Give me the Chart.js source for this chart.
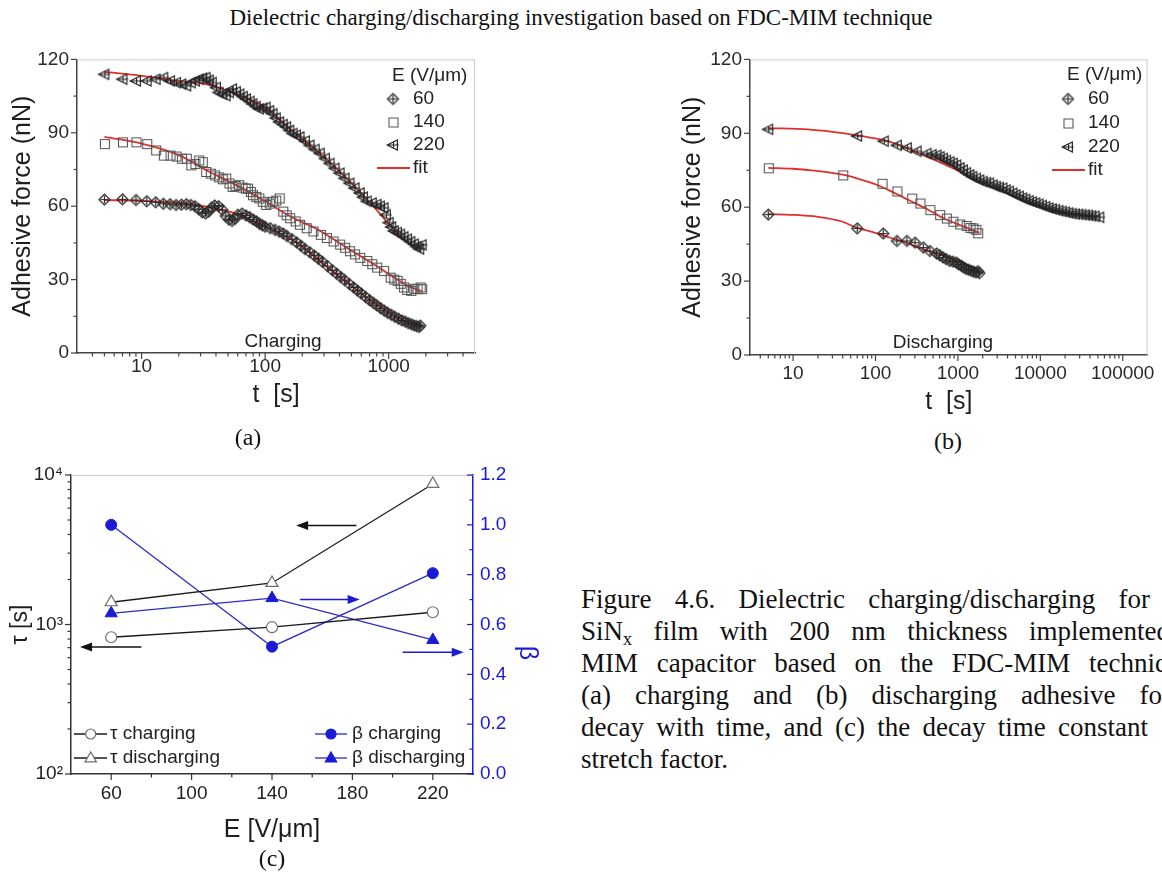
<!DOCTYPE html>
<html><head><meta charset="utf-8">
<script src="https://cdn.jsdelivr.net/npm/chart.js@4.4.1/dist/chart.umd.min.js"></script>
<style>
html,body{margin:0;padding:0;background:#fff;overflow:hidden;width:1162px;height:878px;}
body{position:relative;}
canvas{position:absolute;}
.serif{font-family:"Liberation Serif","Times New Roman",serif;color:#111;position:absolute;white-space:nowrap;}
#title{left:0;width:1162px;top:4px;text-align:center;font-size:23px;line-height:28px;}
.lab{font-size:24px;line-height:28px;width:60px;text-align:center;}
#cap{left:581px;top:583px;font-size:27px;line-height:32px;white-space:normal;}
#cap div{height:32px;text-align:justify;text-align-last:justify;}
#cap div.last{text-align:left;text-align-last:left;}
#cap sub{font-size:18px;vertical-align:-5px;line-height:0;}
</style></head><body>
<div id="title" class="serif">Dielectric charging/discharging investigation based on FDC-MIM technique</div>
<canvas id="ca" width="490" height="375" style="left:0px;top:40px"></canvas>
<canvas id="cb" width="502" height="380" style="left:660px;top:40px"></canvas>
<canvas id="cc" width="560" height="420" style="left:0px;top:440px"></canvas>
<div class="serif lab" style="left:218px;top:423px">(a)</div>
<div class="serif lab" style="left:918px;top:427px">(b)</div>
<div class="serif lab" style="left:242px;top:844px">(c)</div>
<div id="cap" class="serif">
<div style="width:569px">Figure 4.6. Dielectric charging/discharging for</div>
<div style="width:589px">SiN<sub>x</sub> film with 200 nm thickness implemented</div>
<div style="width:613px">MIM capacitor based on the FDC-MIM technique</div>
<div style="width:614px">(a) charging and (b) discharging adhesive force</div>
<div style="width:567px">decay with time, and (c) the decay time constant</div>
<div class="last">stretch factor.</div>
</div>
<script>
// ---------- (a) charging: time [s] and adhesive force [nN] ----------
const tA60 = [5,7,9,11,13,15,17,19,21,23,25,27,29,31,33,35,37,39,42,45,48,51,54,57,60,65,70,75,80,85,90,95,100,110,120,130,140,150,165,180,195,210,230,250,270,290,320,350,380,410,440,480,520,560,600,650,700,750,800,860,920,980,1050,1120,1200,1280,1360,1440,1520,1600,1680,1760,1800];
const fA60 = [62.7,62.8,62.5,62.0,61.6,61.0,60.8,60.5,60.6,60.8,60.5,60.0,58.8,57.5,57.0,57.8,59.5,60.3,60.0,58.5,56.0,54.5,54.0,54.8,56.5,57.0,56.2,55.5,54.5,53.8,52.8,52.2,51.6,51.0,50.3,49.6,48.8,47.8,46.5,45.2,43.8,42.5,41.2,39.8,38.5,37.3,35.5,33.8,32.4,31.0,29.8,28.2,26.8,25.5,24.3,22.9,21.6,20.5,19.5,18.3,17.3,16.4,15.6,14.8,14.0,13.3,12.8,12.2,11.8,11.3,11.0,10.6,11.2];
const tA140 = [5,7,9,11,13,15,17,19,21,23,25,27,29,31,33,36,39,42,45,48,51,54,57,61,65,69,72,76,79,84,89,95,101,108,115,122,130,139,148,158,175,190,215,244,280,313,355,401,440,482,530,584,665,730,800,910,1030,1100,1170,1240,1320,1400,1510,1600,1700,1800,1850];
const fA140 = [85.6,86.3,86.3,85.6,83.0,80.9,80.9,80.5,79.6,79.6,76.9,77.5,78.9,78.2,74.2,73.5,72.8,72.0,71.2,71.5,69.5,68.1,68.5,68.8,67.8,67.4,67.4,66.0,64.7,64.0,63.4,62.0,60.7,61.3,62.0,62.5,63.4,58.0,56.5,55.3,54.0,52.6,51.2,49.9,48.5,47.2,45.8,44.5,43.2,41.8,40.5,39.1,37.8,36.5,35.1,33.7,31.0,30.2,29.7,28.5,27.0,26.0,25.6,26.5,26.3,27.0,26.3];
const tA220 = [5,7,9,11,13,15,17,19,21,23,25,27,29,31,33,35,37,40,42,45,48,51,54,58,62,66,70,75,79,84,89,95,101,108,115,122,130,139,148,157,167,178,190,210,229,252,277,305,333,365,401,440,482,530,584,620,665,730,800,850,910,950,1000,1050,1100,1170,1240,1320,1410,1500,1600,1680,1770,1850];
const fA220 = [113.9,111.9,111.2,111.2,111.9,112.6,111.2,110.5,109.9,109.2,110.5,111.2,111.9,112.3,112.6,111.5,110.6,108.5,106.5,105.8,105.2,106.5,107.9,106.8,105.8,104.8,103.8,102.8,101.8,100.8,99.8,100.0,100.4,99.0,97.8,96.0,94.4,93.4,92.4,91.0,89.7,89.0,88.3,86.6,84.9,83.2,81.6,79.5,77.5,75.5,73.5,71.4,69.4,67.4,65.4,63.7,62.0,61.3,60.7,60.0,59.3,56.5,53.3,51.5,49.9,49.2,48.5,47.5,46.5,45.5,44.5,43.5,42.5,44.2];
const tFitA60 = [5,10,20,30,40,60,80,100,150,200,300,400,500,700,1000,1300,1600,1800];
const fFitA60 = [62.5,62.2,61.3,60.2,59.0,56.8,54.0,51.6,47.5,43.5,36.2,31.2,27.5,21.8,16.5,13.5,12.0,11.5];
const tFitA140 = [5,10,20,35,65,100,158,277,455,750,1100,1500,1850];
const fFitA140 = [88.3,85.6,80.9,74.2,67.4,62.0,56.0,50.0,43.1,36.4,31.0,27.0,25.3];
const tFitA220 = [5,10,20,33,54,100,158,277,455,750,1100,1500,1850];
const fFitA220 = [114.9,113.3,111.2,109.9,106.5,100.4,91.7,81.6,71.5,60.0,50.6,44.5,42.5];

// ---------- (b) discharging ----------
const tB60 = [5,60,124,182,240,302,380,457,550,600,660,720,794,870,955,1020,1100,1180,1260,1350,1450,1550,1660,1750,1820];
const fB60 = [57.0,51.4,49.3,46.3,46.3,45.6,43.6,42.2,41.2,40.5,39.6,38.9,38.2,37.9,37.5,36.8,36.2,35.5,34.9,34.6,34.2,33.8,33.5,34.0,33.2];
const tB140 = [5,40,120,182,275,346,457,600,724,870,1050,1260,1400,1520,1650,1740];
const fB140 = [76.0,73.1,69.7,66.6,63.7,61.7,59.0,57.0,55.6,54.3,53.2,52.6,51.8,51.6,51.0,49.6];
const tB220 = [5,60,126,182,240,316,417,480,550,600,660,720,794,870,955,1050,1150,1260,1380,1500,1660,1820,2000,2200,2400,2650,2880,3150,3470,3800,4170,4600,5010,5500,6030,6600,7240,7950,8710,9550,10470,11500,12600,13800,15100,16600,18200,20000,21900,24000,26300,28900,31600,34700,38000,41600,45700,52000];
const fB220 = [91.6,88.9,86.8,85.1,84.1,82.7,81.8,81.3,81.1,80.5,79.8,79.0,78.4,77.8,77.1,76.0,75.1,74.0,73.1,72.4,71.7,71.0,70.4,70.0,69.7,69.0,68.4,68.0,67.7,67.0,66.4,65.7,65.0,64.4,63.7,63.2,62.6,62.1,61.7,61.2,60.7,60.2,59.7,59.3,59.0,58.6,58.3,58.0,57.7,57.4,57.2,57.1,57.0,56.8,56.7,56.5,56.3,55.9];
const tFitB60 = [5,10,20,38,60,100,151,250,380,600,955,1400,1820];
const fFitB60 = [57.2,56.9,56.1,54.3,51.6,49.6,47.6,45.3,42.9,40.9,38.4,36.0,34.0];
const tFitB140 = [5,10,15,25,41.6,65,105,160,263,420,660,1100,1820];
const fFitB140 = [76.0,75.6,75.1,74.3,73.1,71.3,69.0,66.2,62.6,59.3,55.6,52.5,49.6];
const tFitB220 = [5,15,30,60,100,151,250,380,600,955,1500,2400,3800,6030,9500,15100,24000,38000,52000];
const fFitB220 = [92.1,91.6,90.6,89.2,87.9,86.5,83.8,81.1,78.3,75.1,72.0,69.0,65.8,63.0,60.5,58.3,57.1,56.3,56.3];

// ---------- (c) decay constant and stretch factor ----------
const E = [60,140,220];
const tauCharging = [822,959,1208];
const tauDischarging = [1409,1897,8710];
const betaCharging = [1.00,0.511,0.806];
const betaDischarging = [0.645,0.706,0.538];

// ---------- tick values ----------
const F_TICKS = [0,30,60,90,120];
const F_MINOR = [15,45,75,105];
const XA_TICKS = [10,100,1000];
const XA_MINOR = [4,5,6,7,8,9,20,30,40,50,60,70,80,90,200,300,400,500,600,700,800,900,2000,3000,4000];
const XB_TICKS = [10,100,1000,10000,100000];
const XB_MINOR = [4,5,6,7,8,9,20,30,40,50,60,70,80,90,200,300,400,500,600,700,800,900,2000,3000,4000,5000,6000,7000,8000,9000,20000,30000,40000,50000,60000,70000,80000,90000];
const E_TICKS = [60,100,140,180,220];
const E_MINOR = [80,120,160,200];
const TAU_TICKS = [100,1000,10000];
const TAU_LABELS = {100:'10²',1000:'10³',10000:'10⁴'};
const TAU_MINOR = [200,300,400,500,600,700,800,900,2000,3000,4000,5000,6000,7000,8000,9000];
const B_TICKS = [0,0.2,0.4,0.6,0.8,1.0,1.2];
const B_MINOR = [0.1,0.3,0.5,0.7,0.9,1.1];

// ---------- styling helpers ----------
const FAM = "'Liberation Sans', Arial, sans-serif";
const RED = '#e0302c';
const BLUE = '#1b1bd6';
const BLUEL = '#2c2cc4';

function sym(kind, r, stroke, lw){
  const s = Math.ceil(2*r+4), c = document.createElement('canvas');
  c.width = s; c.height = s;
  const g = c.getContext('2d'), m = s/2;
  g.lineWidth = lw; g.strokeStyle = stroke; g.beginPath();
  if (kind === 'diamondPlus'){
    g.moveTo(m,m-r); g.lineTo(m+r,m); g.lineTo(m,m+r); g.lineTo(m-r,m); g.closePath();
    g.moveTo(m-r*0.7,m); g.lineTo(m+r*0.7,m); g.moveTo(m,m-r*0.7); g.lineTo(m,m+r*0.7);
  } else if (kind === 'square'){
    g.rect(Math.round(m-r*0.8)+0.5, Math.round(m-r*0.8)+0.5, Math.round(r*1.6), Math.round(r*1.6));
  } else {
    g.moveTo(m-r,m); g.lineTo(m+r*0.75,m-r*0.85); g.lineTo(m+r*0.75,m+r*0.85); g.closePath();
    g.moveTo(m-r,m); g.lineTo(m+r,m); g.moveTo(m+r*0.1,m-r*0.45); g.lineTo(m+r*0.1,m+r*0.45);
  }
  g.stroke();
  return c;
}
const symDia = sym('diamondPlus', 5.5, '#262626', 1.2);
const symSq = sym('square', 5.5, '#555555', 1.1);
const symTri = sym('triLeftPlus', 5.8, '#262626', 1.2);

function pts(t, f, img){
  return {data: t.map((x,i)=>({x, y:f[i]})), pointStyle: img, pointRadius: 5, showLine: false};
}
function fitLine(t, f){
  return {data: t.map((x,i)=>({x, y:f[i]})), showLine: true, pointRadius: 0, borderColor: RED,
          borderWidth: 1.8, cubicInterpolationMode: 'monotone'};
}

const decor = {
  id: 'decor',
  afterDraw(chart, args, o){
    const ctx = chart.ctx, ca = chart.chartArea;
    ctx.save();
    if (o.frame){
      ctx.strokeStyle = o.frame.color; ctx.lineWidth = 1; ctx.beginPath();
      if (o.frame.top){ ctx.moveTo(ca.left, ca.top+0.5); ctx.lineTo(ca.right, ca.top+0.5); }
      if (o.frame.right){ ctx.moveTo(ca.right-0.5, ca.top); ctx.lineTo(ca.right-0.5, ca.bottom); }
      ctx.stroke();
    }
    (o.ticks||[]).forEach(t=>{
      const s = chart.scales[t.id];
      ctx.strokeStyle = t.color; ctx.lineWidth = 1.2;
      const draw = (v, len)=>{
        const p = s.getPixelForValue(v);
        ctx.beginPath();
        if (s.isHorizontal()){ ctx.moveTo(p, ca.bottom); ctx.lineTo(p, ca.bottom + len*t.dir); }
        else { const x0 = s.position === 'right' ? ca.right : ca.left; ctx.moveTo(x0, p); ctx.lineTo(x0 + len*t.dir, p); }
        ctx.stroke();
      };
      t.major.forEach(v=>draw(v, 6));
      (t.minor||[]).forEach(v=>draw(v, 3.5));
    });
    (o.arrows||[]).forEach(a=>{
      const sx = chart.scales.x, sy = chart.scales[a.axis];
      const x1 = sx.getPixelForValue(a.x1), x2 = sx.getPixelForValue(a.x2), y = sy.getPixelForValue(a.y);
      const d = Math.sign(x2-x1);
      ctx.strokeStyle = a.color; ctx.fillStyle = a.color; ctx.lineWidth = 1.5;
      ctx.beginPath(); ctx.moveTo(x1, y); ctx.lineTo(x2 - d*8, y); ctx.stroke();
      ctx.beginPath(); ctx.moveTo(x2, y); ctx.lineTo(x2 - d*12, y-4.5); ctx.lineTo(x2 - d*12, y+4.5); ctx.closePath(); ctx.fill();
    });
    (o.items||[]).forEach(it=>{
      if (it.t === 'text'){
        ctx.fillStyle = it.color || '#222';
        ctx.font = (it.size||19) + 'px ' + FAM;
        ctx.textAlign = it.align || 'left'; ctx.textBaseline = 'middle';
        if (it.rot){ ctx.save(); ctx.translate(it.x, it.y); ctx.rotate(it.rot*Math.PI/180); ctx.fillText(it.text, 0, 0); ctx.restore(); }
        else ctx.fillText(it.text, it.x, it.y);
      } else if (it.t === 'img'){
        ctx.drawImage(it.img, it.x - it.img.width/2, it.y - it.img.height/2);
      } else if (it.t === 'line'){
        ctx.strokeStyle = it.color; ctx.lineWidth = it.w || 1.3;
        ctx.beginPath(); ctx.moveTo(it.x1, it.y); ctx.lineTo(it.x2, it.y); ctx.stroke();
      } else if (it.t === 'mark'){
        ctx.fillStyle = it.fill; ctx.strokeStyle = it.stroke; ctx.lineWidth = 1.2; ctx.beginPath();
        if (it.shape === 'circle') ctx.arc(it.x, it.y, it.r, 0, Math.PI*2);
        else { ctx.moveTo(it.x, it.y - it.r); ctx.lineTo(it.x + it.r*0.95, it.y + it.r*0.65); ctx.lineTo(it.x - it.r*0.95, it.y + it.r*0.65); ctx.closePath(); }
        ctx.fill(); ctx.stroke();
      }
    });
    ctx.restore();
  }
};

const baseGrid = {display: true, drawOnChartArea: false, drawTicks: false};
function tickFont(size){ return {family: FAM, size}; }

function legendAB(x0, rows, titleY, extraText, extraX, extraY){
  const sx = x0, tx = x0 + 20;
  return [
    {t:'text', text:'E (V/μm)', x:x0-1, y:titleY},
    {t:'img', img:symDia, x:sx, y:rows[0]}, {t:'text', text:'60', x:tx, y:rows[0]},
    {t:'img', img:symSq, x:sx, y:rows[1]}, {t:'text', text:'140', x:tx, y:rows[1]},
    {t:'img', img:symTri, x:sx, y:rows[2]}, {t:'text', text:'220', x:tx, y:rows[2]},
    {t:'line', x1:sx-16, x2:sx+17, y:rows[3], color:RED, w:1.8}, {t:'text', text:'fit', x:tx, y:rows[3]},
    {t:'text', text:extraText, x:extraX, y:extraY, align:'center'}
  ];
}

function forceChart(id, sets, xmin, xmax, xt, xminor, opt){
  return new Chart(document.getElementById(id), {
    type: 'scatter',
    data: {datasets: sets},
    options: {
      animation: false, responsive: false, events: [],
      layout: {padding: {top: 17, right: opt.padRight, left: 0, bottom: 0}},
      plugins: {legend: {display: false}, tooltip: {enabled: false},
        decor: {frame: {color: '#cccccc', top: true, right: true},
          ticks: [{id:'x', major: xt, minor: xminor, dir: 1, color: '#444'},
                  {id:'y', major: F_TICKS, minor: F_MINOR, dir: -1, color: '#444'}],
          items: opt.items}},
      scales: {
        x: {type: 'logarithmic', min: xmin, max: xmax,
            afterBuildTicks: s => { s.ticks = xt.map(v => ({value: v})); },
            ticks: {callback: v => String(v), font: tickFont(19), color: '#2a2a2a', padding: opt.xPad, maxRotation: 0, autoSkip: false},
            grid: baseGrid, border: {color: '#444', width: 1.5},
            title: {display: true, text: 't  [s]', font: {family: FAM, size: 25}, color: '#1e1e1e', padding: {top: 0, bottom: opt.xTitlePad}},
            afterFit: s => { s.height = opt.xH; }},
        y: {type: 'linear', min: 0, max: 120,
            afterBuildTicks: s => { s.ticks = F_TICKS.map(v => ({value: v})); },
            ticks: {font: tickFont(19), color: '#2a2a2a', padding: opt.yPad},
            grid: baseGrid, border: {color: '#444', width: 1.5},
            title: {display: true, text: 'Adhesive force (nN)', font: {family: FAM, size: 25}, color: '#1e1e1e', padding: {top: opt.yTitlePad, bottom: 0}},
            afterFit: s => { s.width = opt.yW; }}
      }
    },
    plugins: [decor]
  });
}

forceChart('ca', [pts(tA60,fA60,symDia), pts(tA140,fA140,symSq), pts(tA220,fA220,symTri),
                  fitLine(tFitA60,fFitA60), fitLine(tFitA140,fFitA140), fitLine(tFitA220,fFitA220)],
  3, 5000, XA_TICKS, XA_MINOR,
  {padRight: 15, xPad: 2, xTitlePad: 5, xH: 62, yPad: 8, yTitlePad: 8, yW: 77,
   items: legendAB(393, [59,82,105,128], 36, 'Charging', 283, 302)});

forceChart('cb', [pts(tB60,fB60,symDia), pts(tB140,fB140,symSq), pts(tB220,fB220,symTri),
                  fitLine(tFitB60,fFitB60), fitLine(tFitB140,fFitB140), fitLine(tFitB220,fFitB220)],
  3, 200000, XB_TICKS, XB_MINOR,
  {padRight: 9, xPad: 7, xTitlePad: 3, xH: 65, yPad: 8, yTitlePad: 18, yW: 90,
   items: legendAB(408, [59,83,107,130], 35, 'Discharging', 283, 303)});

// ---------- chart (c) ----------
const ser = (vals) => E.map((e,i)=>({x:e, y:vals[i]}));
new Chart(document.getElementById('cc'), {
  type: 'scatter',
  data: {datasets: [
    {data: ser(tauCharging), yAxisID: 'y', showLine: true, borderColor: '#1a1a1a', borderWidth: 1.3,
     pointStyle: 'circle', pointRadius: 5.5, pointBackgroundColor: '#fff', pointBorderColor: '#6e6e6e', pointBorderWidth: 1.2},
    {data: ser(tauDischarging), yAxisID: 'y', showLine: true, borderColor: '#1a1a1a', borderWidth: 1.3,
     pointStyle: 'triangle', pointRadius: 7, pointBackgroundColor: '#fff', pointBorderColor: '#6e6e6e', pointBorderWidth: 1.2},
    {data: ser(betaCharging), yAxisID: 'y2', showLine: true, borderColor: BLUEL, borderWidth: 1.3,
     pointStyle: 'circle', pointRadius: 5.5, pointBackgroundColor: BLUE, pointBorderColor: BLUE, pointBorderWidth: 1},
    {data: ser(betaDischarging), yAxisID: 'y2', showLine: true, borderColor: BLUEL, borderWidth: 1.3,
     pointStyle: 'triangle', pointRadius: 7, pointBackgroundColor: BLUE, pointBorderColor: BLUE, pointBorderWidth: 1}
  ]},
  options: {
    animation: false, responsive: false, events: [],
    layout: {padding: {top: 35, right: 0, left: 0, bottom: 0}},
    plugins: {legend: {display: false}, tooltip: {enabled: false},
      decor: {frame: {color: '#cccccc', top: true, right: false},
        ticks: [{id:'x', major: E_TICKS, minor: E_MINOR, dir: 1, color: '#333'},
                {id:'y', major: TAU_TICKS, minor: TAU_MINOR, dir: -1, color: '#333'},
                {id:'y2', major: B_TICKS, minor: B_MINOR, dir: -1, color: BLUE}],
        arrows: [{x1: 182, x2: 152, y: 4590, axis: 'y', color: '#111'},
                 {x1: 75, x2: 44.5, y: 706, axis: 'y', color: '#111'},
                 {x1: 154, x2: 183.6, y: 0.70, axis: 'y2', color: BLUE},
                 {x1: 205, x2: 235.4, y: 0.489, axis: 'y2', color: BLUE}],
        items: [
          {t:'line', x1:74, x2:107, y:294, color:'#1a1a1a'}, {t:'mark', shape:'circle', x:90.7, y:294, r:5, fill:'#fff', stroke:'#6e6e6e'},
          {t:'text', text:'τ charging', x:110, y:294, size:19},
          {t:'line', x1:74, x2:107, y:318, color:'#1a1a1a'}, {t:'mark', shape:'tri', x:90.7, y:318, r:6, fill:'#fff', stroke:'#6e6e6e'},
          {t:'text', text:'τ discharging', x:110, y:318, size:19},
          {t:'line', x1:315, x2:347, y:294, color:BLUEL}, {t:'mark', shape:'circle', x:331, y:294, r:5, fill:BLUE, stroke:BLUE},
          {t:'text', text:'β charging', x:352, y:294, size:19},
          {t:'line', x1:315, x2:347, y:318, color:BLUEL}, {t:'mark', shape:'tri', x:331, y:318, r:6, fill:BLUE, stroke:BLUE},
          {t:'text', text:'β discharging', x:352, y:318, size:19},
          {t:'text', text:'β', x:527, y:213, size:25, color:BLUE, align:'center', rot:90}
        ]}},
    scales: {
      x: {type: 'linear', min: 40, max: 240,
          afterBuildTicks: s => { s.ticks = E_TICKS.map(v => ({value: v})); },
          ticks: {font: tickFont(19), color: '#222', padding: 8, maxRotation: 0, autoSkip: false},
          grid: baseGrid, border: {color: '#333', width: 1.5},
          title: {display: true, text: 'E [V/μm]', font: {family: FAM, size: 25}, color: '#1e1e1e', padding: {top: 0, bottom: 15}},
          afterFit: s => { s.height = 86; }},
      y: {type: 'logarithmic', position: 'left', min: 100, max: 10000,
          afterBuildTicks: s => { s.ticks = TAU_TICKS.map(v => ({value: v})); },
          ticks: {callback: v => TAU_LABELS[v], font: tickFont(19), color: '#222', padding: 8, autoSkip: false},
          grid: baseGrid, border: {color: '#333', width: 1.5},
          title: {display: true, text: 'τ [s]', font: {family: FAM, size: 23}, color: '#1e1e1e', padding: {top: 7, bottom: 0}},
          afterFit: s => { s.width = 71; }},
      y2: {type: 'linear', position: 'right', min: 0, max: 1.2,
          afterBuildTicks: s => { s.ticks = B_TICKS.map(v => ({value: v})); },
          ticks: {callback: v => v.toFixed(1), font: tickFont(19), color: BLUE, padding: 7, autoSkip: false},
          grid: baseGrid, border: {color: BLUE, width: 1.5},
          afterFit: s => { s.width = 87; }}
    }
  },
  plugins: [decor]
});
</script>
</body></html>
